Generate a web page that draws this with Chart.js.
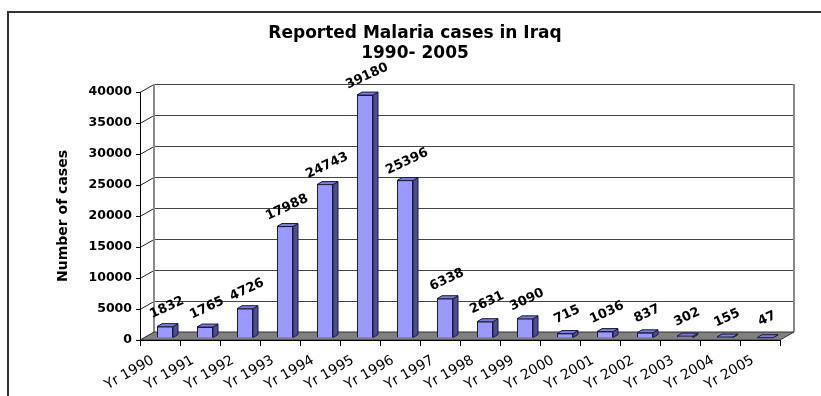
<!DOCTYPE html>
<html>
<head>
<meta charset="utf-8">
<title>Reported Malaria cases in Iraq</title>
<script src="https://cdn.jsdelivr.net/npm/chart.js@4.4.1/dist/chart.umd.min.js"></script>
<style>
  html, body { margin: 0; padding: 0; background: #fff; }
  #wrap { position: relative; width: 821px; height: 396px; }
  #frame { position: absolute; left: 7px; top: 11px; width: 814px; height: 385px;
           border-left: 2px solid #333; border-top: 2px solid #333; }
  #malariaChart { position: absolute; left: 0; top: 0; }
</style>
</head>
<body>
<div id="wrap">
  <div id="frame"></div>
  <canvas id="malariaChart" width="821" height="396"></canvas>
</div>

<script>
// ---- data ----
const years = ["Yr 1990", "Yr 1991", "Yr 1992", "Yr 1993", "Yr 1994", "Yr 1995", "Yr 1996", "Yr 1997",
               "Yr 1998", "Yr 1999", "Yr 2000", "Yr 2001", "Yr 2002", "Yr 2003", "Yr 2004", "Yr 2005"];
const cases = [1832, 1765, 4726, 17988, 24743, 39180, 25396, 6338, 2631, 3090, 715, 1036, 837, 302, 155, 47];
const yMax = 40000;
const yStep = 5000;

// 3d look: depth of the back wall and of each bar
const WALL_DX = 14, WALL_DY = 8;
const BAR_DX = 5, BAR_DY = 3;
const SHIFT_X = 5, SHIFT_Y = -2;   // bars stand in the middle of the floor

// back wall, grid lines and grey floor
const wallPlugin = {
  id: "wall",
  beforeDraw(chart) {
    const ctx = chart.ctx;
    const a = chart.chartArea;
    const y = chart.scales.y;
    ctx.save();
    ctx.lineWidth = 1;
    y.ticks.forEach(t => {
      const py = Math.round(y.getPixelForValue(t.value)) + 0.5;
      if (t.value > 0) {
        ctx.strokeStyle = "#444";
        ctx.beginPath();
        ctx.moveTo(a.left + WALL_DX, py - WALL_DY);
        ctx.lineTo(a.right + WALL_DX, py - WALL_DY);
        ctx.stroke();
      }
      ctx.strokeStyle = "#222";
      ctx.beginPath();
      ctx.moveTo(a.left, py);
      ctx.lineTo(a.left + WALL_DX, py - WALL_DY);
      ctx.stroke();
    });
    // wall side edges
    ctx.strokeStyle = "#8a8a8a";
    ctx.lineWidth = 2;
    ctx.beginPath();
    ctx.moveTo(a.left + WALL_DX, a.top - WALL_DY);
    ctx.lineTo(a.left + WALL_DX, a.bottom - WALL_DY);
    ctx.moveTo(a.right + WALL_DX, a.top - WALL_DY);
    ctx.lineTo(a.right + WALL_DX, a.bottom - WALL_DY);
    ctx.stroke();
    // floor
    ctx.fillStyle = "#808080";
    ctx.strokeStyle = "#333";
    ctx.lineWidth = 1;
    ctx.beginPath();
    ctx.moveTo(a.left, a.bottom);
    ctx.lineTo(a.right, a.bottom);
    ctx.lineTo(a.right + WALL_DX, a.bottom - WALL_DY);
    ctx.lineTo(a.left + WALL_DX, a.bottom - WALL_DY);
    ctx.closePath();
    ctx.fill();
    ctx.stroke();
    ctx.restore();
  }
};

// side and top faces of the bars, then the value labels
const barPlugin = {
  id: "bars3d",
  beforeDatasetsDraw(chart) {
    const ctx = chart.ctx;
    ctx.save();
    ctx.translate(SHIFT_X, SHIFT_Y);
    chart.getDatasetMeta(0).data.forEach(bar => {
      const r = bar.x + bar.width / 2, l = bar.x - bar.width / 2;
      ctx.lineWidth = 1;
      ctx.strokeStyle = "#1a1a40";
      // side
      ctx.fillStyle = "#4f4f8a";
      ctx.beginPath();
      ctx.moveTo(r, bar.y);
      ctx.lineTo(r + BAR_DX, bar.y - BAR_DY);
      ctx.lineTo(r + BAR_DX, bar.base - BAR_DY);
      ctx.lineTo(r, bar.base);
      ctx.closePath();
      ctx.fill();
      ctx.stroke();
      // top
      ctx.fillStyle = "#7d7dd6";
      ctx.beginPath();
      ctx.moveTo(l, bar.y);
      ctx.lineTo(l + BAR_DX, bar.y - BAR_DY);
      ctx.lineTo(r + BAR_DX, bar.y - BAR_DY);
      ctx.lineTo(r, bar.y);
      ctx.closePath();
      ctx.fill();
      ctx.stroke();
    });
  },
  afterDatasetsDraw(chart) {
    const ctx = chart.ctx;
    ctx.restore();
    ctx.save();
    ctx.fillStyle = "#000";
    ctx.font = "bold 13px 'DejaVu Sans'";
    ctx.textAlign = "center";
    ctx.textBaseline = "middle";
    chart.getDatasetMeta(0).data.forEach((bar, i) => {
      ctx.save();
      ctx.translate(bar.x + SHIFT_X + 2, bar.y + SHIFT_Y - 19);
      ctx.rotate(-25 * Math.PI / 180);
      ctx.fillText(String(cases[i]), 0, 0);
      ctx.restore();
    });
    ctx.restore();
  },
  afterLayout(chart) {
    // centre the title over the plot like the original
    if (chart.titleBlock) {
      chart.titleBlock.left += 21;
      chart.titleBlock.right += 21;
    }
  }
};

new Chart(document.getElementById("malariaChart"), {
  type: "bar",
  data: {
    labels: years,
    datasets: [{
      label: "Number of cases",
      data: cases,
      backgroundColor: "#9999ff",
      borderColor: "#1a1a40",
      borderWidth: 1,
      barPercentage: 0.4,
      categoryPercentage: 1.0
    }]
  },
  options: {
    responsive: false,
    animation: false,
    layout: { padding: { left: 8, right: 41, top: 0, bottom: 0 } },
    plugins: {
      legend: { display: false },
      tooltip: { enabled: false },
      title: {
        display: true,
        text: ["Reported Malaria cases in Iraq", "1990- 2005"],
        color: "#000",
        font: { family: "'DejaVu Sans'", size: 17, weight: "bold", lineHeight: 1.15 },
        padding: { top: 24, bottom: 28.9 }
      }
    },
    scales: {
      x: {
        grid: { display: true, drawOnChartArea: false, offset: true, color: "#000", tickLength: 6 },
        border: { color: "#000", width: 1 },
        ticks: {
          color: "#000",
          autoSkip: false,
          font: { family: "'DejaVu Sans'", size: 14 },
          minRotation: 30,
          maxRotation: 30,
          labelOffset: -7,
          padding: 6
        },
        afterFit(scale) { scale.height = 56; }
      },
      y: {
        min: 0,
        max: yMax,
        grid: { display: true, drawOnChartArea: false, color: "#000", tickLength: 4 },
        border: { color: "#000", width: 1 },
        ticks: {
          stepSize: yStep,
          color: "#000",
          padding: 4,
          font: { family: "'DejaVu Sans'", size: 12.5, weight: "bold" },
          callback: v => String(v)
        },
        title: {
          display: true,
          text: "Number of cases",
          color: "#000",
          font: { family: "'DejaVu Sans'", size: 14, weight: "bold", lineHeight: 1.2 },
          padding: { top: 46.6, bottom: 0 }
        },
        afterFit(scale) { scale.width = 132; }
      }
    }
  },
  plugins: [wallPlugin, barPlugin]
});
</script>
</body>
</html>
